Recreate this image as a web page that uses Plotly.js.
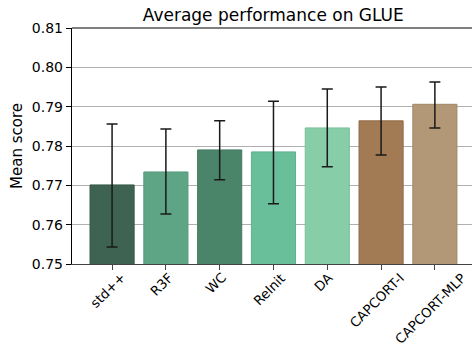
<!DOCTYPE html>
<html><head><meta charset="utf-8">
<script src="https://cdn.plot.ly/plotly-3.0.1.min.js"></script>
<style>body{margin:0;background:#fff}#c{width:472px;height:347px}</style>
</head><body><div id="c"></div>
<script>
const categories = ["std++","R3F","WC","ReInit","DA","CAPCORT-I","CAPCORT-MLP"];
const meanScores = [0.7701,0.7734,0.7790,0.7785,0.7846,0.7864,0.7906];
const errUpper   = [0.7856,0.7843,0.7864,0.7914,0.7945,0.7950,0.7963];
const errLower   = [0.7543,0.7627,0.7714,0.7653,0.7747,0.7777,0.7846];
const yTicks = [0.75,0.76,0.77,0.78,0.79,0.80,0.81];
const colors = ["#3e6352","#5da584","#4b8569","#69bf99","#86cda8","#a27a53","#b29876"];
const edges  = ["#36584a","#549a7a","#437a60","#5fb18c","#7bbf9b","#8f6a48","#a08866"];

const trace = {
  type:"bar", x:categories, y:meanScores, width:0.82,
  marker:{color:colors, line:{color:edges, width:1}},
  error_y:{type:"data", symmetric:false,
    array: errUpper.map((v,i)=>v-meanScores[i]),
    arrayminus: meanScores.map((v,i)=>v-errLower[i]),
    color:"#1a1a1a", thickness:1.5, width:5.5},
  hoverinfo:"skip"
};
const tickAnns = categories.map(c=>({
  x:c, xref:"x", y:0, yref:"paper", yshift:-5, xshift:-4, xanchor:"center", yanchor:"top",
  text:c, textangle:-45, showarrow:false, borderpad:0, font:{size:13.3, family:"DejaVu Sans", color:"#000"}
}));
const layout = {
  width:472, height:347,
  margin:{l:72, r:0, t:28, b:83},
  paper_bgcolor:"#fff", plot_bgcolor:"#fff",
  font:{family:"DejaVu Sans", size:14, color:"#000"},
  title:{text:"Average performance on GLUE", x:0.579, xanchor:"center", y:0.975, yanchor:"top", font:{size:17}},
  showlegend:false,
  xaxis:{range:[-0.745,6.69], showticklabels:false, ticks:"outside", ticklen:5, tickcolor:"#444",
    showline:true, linecolor:"#444", linewidth:1.2, showgrid:false, zeroline:false},
  yaxis:{range:[0.75,0.81], tickvals:yTicks, ticktext:yTicks.map(v=>v.toFixed(2)),
    ticks:"outside", ticklen:5, tickcolor:"#000", showline:true, linecolor:"#000", linewidth:1.2,
    showgrid:true, gridcolor:"#b0b0b0", gridwidth:1, zeroline:false,
    title:{text:"Mean score", standoff:5, font:{size:15}}, tickfont:{size:14}},
  annotations: tickAnns,
  shapes:[{type:"line", xref:"paper", yref:"paper", x0:0, x1:1, y0:1, y1:1, line:{color:"#000", width:1.2}}]
};
Plotly.newPlot("c",[trace],layout,{displayModeBar:false,staticPlot:true});
</script></body></html>
